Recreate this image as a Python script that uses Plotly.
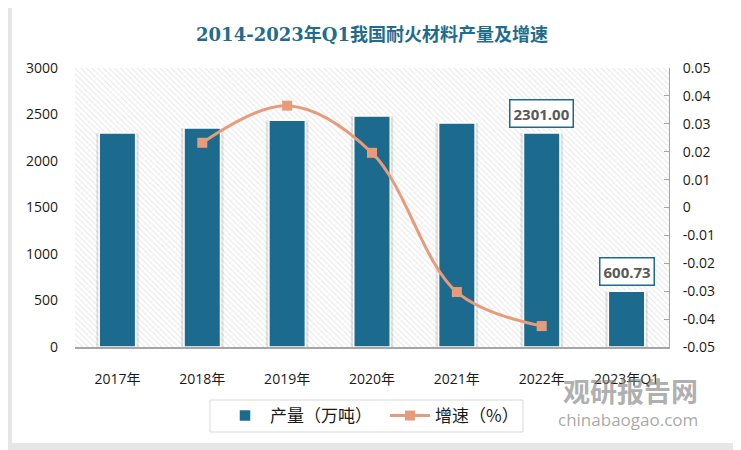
import plotly.graph_objects as go

# ---- data ----
categories = ["2017年", "2018年", "2019年", "2020年", "2021年", "2022年", "2023年Q1"]
output_vals = [2301, 2355, 2437, 2484, 2408, 2301.00, 600.73]
growth_cats = ["2018年", "2019年", "2020年", "2021年", "2022年"]
growth_vals = [0.0232, 0.0365, 0.0196, -0.0303, -0.0425]
left_ticks = [0, 500, 1000, 1500, 2000, 2500, 3000]
right_tickvals = [-0.05, -0.04, -0.03, -0.02, -0.01, 0, 0.01, 0.02, 0.03, 0.04, 0.05]
right_ticktext = ["-0.05", "-0.04", "-0.03", "-0.02", "-0.01", "0", "0.01", "0.02", "0.03", "0.04", "0.05"]
label_cats = ["2022年", "2023年Q1"]
label_vals = [2301.00, 600.73]
label_text = ["2301.00", "600.73"]

BAR = "#1C6B8F"
LINE = "#E89B7A"
TICKFONT = dict(family="Open Sans, Noto Sans CJK SC", size=14, color="#1a1a1a")

# page body has an 8px margin -> work in figure coords = reference px - 8
OFF = 8
L, T, PW, PH = 75 - OFF, 68 - OFF, 594, 279
W, H = 741 - OFF, 450 - OFF


def px(xr):
    return (xr - 75) / PW


def py(yr):
    return (347 - yr) / PH


fig = go.Figure()

# hatched plot background (decorative)
fig.add_trace(go.Bar(
    x=[0.5], y=[1], width=[1], xaxis="x", yaxis="y",
    marker=dict(color="white", line=dict(width=0),
                pattern=dict(shape="\\", fgcolor="#CCCCCC", bgcolor="white", size=4, solidity=0.25)),
    hoverinfo="skip", showlegend=False))

# soft shadow behind bars
fig.add_trace(go.Bar(
    x=categories, y=output_vals, width=0.5, xaxis="x2", yaxis="y2",
    marker=dict(color="rgba(0,0,0,0.10)", line=dict(width=0)),
    hoverinfo="skip", showlegend=False))

fig.add_trace(go.Bar(
    x=categories, y=output_vals, width=0.43, xaxis="x2", yaxis="y2",
    name="产量（万吨）",
    marker=dict(color=BAR, line=dict(color="white", width=1.5))))

fig.add_trace(go.Scatter(
    x=growth_cats, y=growth_vals, xaxis="x2", yaxis="y3",
    name="增速（%）", mode="lines+markers",
    line=dict(color=LINE, width=3, shape="spline", smoothing=1.0),
    marker=dict(symbol="square", size=10, color=LINE)))

for c, v, t in zip(label_cats, label_vals, label_text):
    fig.add_annotation(
        x=c, y=v, xref="x2", yref="y2", text="<b>" + t + "</b>", showarrow=False,
        yanchor="bottom", yshift=5,
        font=dict(family="Open Sans", size=15, color="#595959"),
        bgcolor="white", bordercolor=BAR, borderwidth=1.5, borderpad=3)

# watermark
fig.add_annotation(xref="paper", yref="paper", x=px(700), y=py(390),
                   xanchor="right", yanchor="middle", showarrow=False,
                   text="<b>观研报告网</b>",
                   font=dict(family="Noto Sans CJK SC", size=27, color="rgba(130,130,130,0.65)"))
fig.add_annotation(xref="paper", yref="paper", x=px(700), y=py(419),
                   xanchor="right", yanchor="middle", showarrow=False,
                   text="chinabaogao.com",
                   font=dict(family="Open Sans", size=17, color="rgba(130,130,130,0.7)"))

# white card with grey frame
fig.add_shape(type="rect", xref="paper", yref="paper", layer="below",
              x0=px(12), x1=px(734), y0=py(443), y1=py(8),
              fillcolor="white", line=dict(width=0))
# legend frame
fig.add_shape(type="rect", xref="paper", yref="paper", layer="below",
              x0=px(210), x1=px(523), y0=py(432), y1=py(400),
              fillcolor="white", line=dict(color="#D9D9D9", width=1))

fig.update_layout(
    width=W, height=H,
    margin=dict(l=L, r=W - L - PW, t=T, b=H - T - PH),
    paper_bgcolor="#E6E6E6", plot_bgcolor="rgba(0,0,0,0)",
    barmode="overlay",
    title=dict(text="<b>2014-2023年Q1我国耐火材料产量及增速</b>", x=0.5, xref="paper",
               y=1 - (35 - OFF) / H, yanchor="middle",
               font=dict(family="DejaVu Serif, Noto Sans CJK SC", size=18, color="#1F6C8E")),
    xaxis=dict(range=[0, 1], visible=False, fixedrange=True),
    yaxis=dict(range=[0, 1], visible=False, fixedrange=True),
    xaxis2=dict(overlaying="x", anchor="y2", type="category", categoryorder="array",
                categoryarray=categories, range=[-0.5, 6.5],
                showline=True, linecolor="#A6A6A6", linewidth=1.5,
                ticks="", ticklabelstandoff=18,
                tickfont=dict(family="Open Sans, Noto Sans CJK SC", size=14, color="#1a1a1a")),
    yaxis2=dict(overlaying="y", anchor="x2", side="left", range=[0, 3000],
                tickvals=left_ticks, showgrid=False, zeroline=False, showline=False,
                ticklabelstandoff=16, tickfont=TICKFONT),
    yaxis3=dict(overlaying="y", anchor="x2", side="right", range=[-0.05, 0.05],
                tickvals=right_tickvals, ticktext=right_ticktext,
                showgrid=False, zeroline=False, showline=True, linecolor="#A6A6A6",
                linewidth=1, ticks="inside", ticklen=5, tickcolor="#A6A6A6",
                ticklabelstandoff=10, tickfont=TICKFONT),
    legend=dict(orientation="h", x=px(220), xanchor="left",
                y=py(416), yanchor="middle",
                borderwidth=0, bgcolor="rgba(0,0,0,0)",
                font=dict(family="Noto Sans CJK SC", size=17, color="#1a1a1a"),
                entrywidth=110, itemwidth=40, tracegroupgap=0),
    showlegend=True,
)

fig.write_html("out.html")
